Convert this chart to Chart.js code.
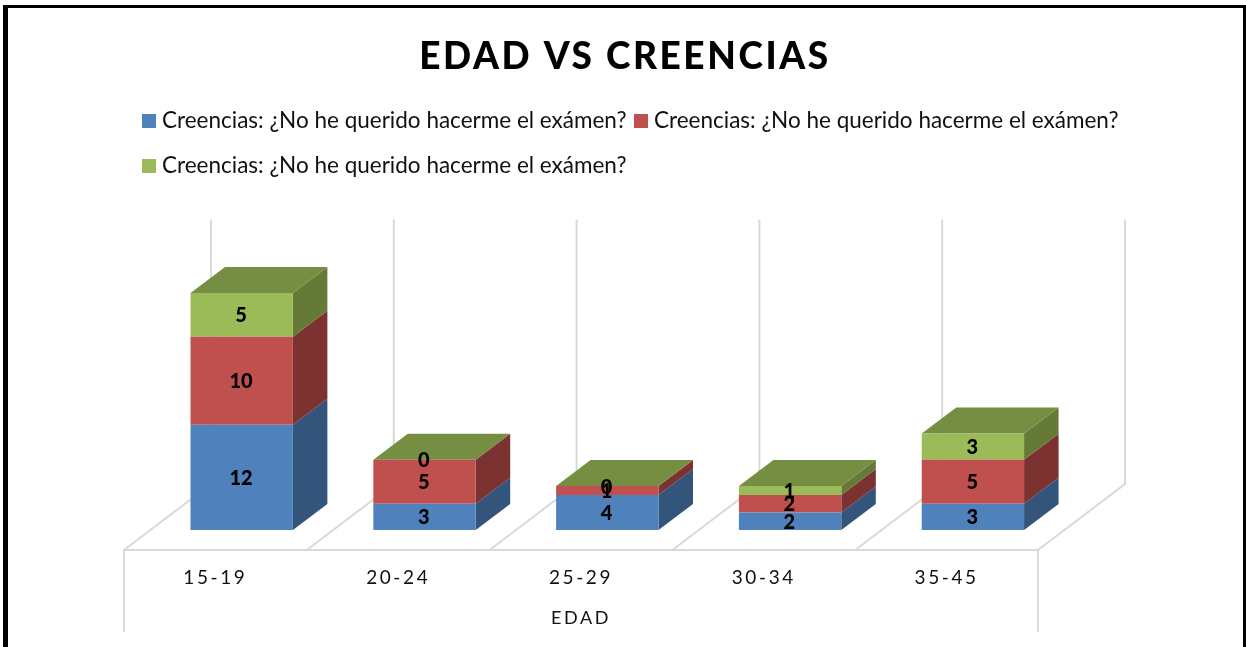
<!DOCTYPE html>
<html lang="es">
<head>
<meta charset="utf-8">
<title>EDAD VS CREENCIAS</title>
<script src="https://cdn.jsdelivr.net/npm/chart.js@4"></script>
<style>html,body{margin:0;padding:0;background:#fff}canvas{display:block}</style>
</head>
<body>
<canvas id="c" width="1246" height="647"></canvas>
<script>
const categories = ['15-19', '20-24', '25-29', '30-34', '35-45'];
const seriesLabel = 'Creencias: ¿No he querido hacerme el exámen?';
const blueValues = [12, 3, 4, 2, 3];
const redValues = [10, 5, 1, 2, 5];
const greenValues = [5, 0, 0, 1, 3];
const frontColors = ['#4F81BD', '#C0504D', '#9BBB59'];
const sideColors = ['#33547B', '#7B3231', '#667A37'];
const topColor = '#768E42';
const gridColor = '#D9D9D9';
const textFont = 'Lato';

const plot3d = {
  id: 'plot3d',
  beforeDraw(chart) {
    const c = chart.ctx;
    c.fillStyle = '#fff'; c.fillRect(0, 0, 1246, 647);
    c.fillStyle = '#000';
    c.fillRect(3, 5, 1243, 3); c.fillRect(3, 5, 5, 642); c.fillRect(1243, 5, 3, 642);
    c.letterSpacing = '2.6px';
  },
  afterLayout(chart) {
    chart.titleBlock.left += 44; chart.titleBlock.right += 44;
  },
  beforeDatasetsDraw(chart) {
    const c = chart.ctx, x = chart.scales.x, y = chart.scales.y;
    c.letterSpacing = '0px';
    const n = categories.length, step = x.width / n, floor = y.getPixelForValue(0);
    c.save();
    c.strokeStyle = gridColor; c.lineWidth = 2;
    c.beginPath();
    for (let i = 0; i <= n; i++) {
      const px = x.left + i * step;
      c.moveTo(px, floor); c.lineTo(px + 87, floor - 66); c.lineTo(px + 87, y.top - 67);
    }
    c.moveTo(x.left, floor); c.lineTo(x.left, 632);
    c.moveTo(x.right, floor); c.lineTo(x.right, 632);
    c.stroke();
    c.restore();
    c.save();
    c.translate(26.3, -20);
    const dx = 34.5, dy = 26;
    chart.data.datasets.forEach((ds, di) => {
      chart.getDatasetMeta(di).data.forEach(el => {
        const r = el.x + el.width / 2;
        c.fillStyle = sideColors[di];
        c.beginPath();
        c.moveTo(r, el.base); c.lineTo(r + dx, el.base - dy);
        c.lineTo(r + dx, el.y - dy); c.lineTo(r, el.y); c.closePath(); c.fill();
      });
    });
    chart.getDatasetMeta(chart.data.datasets.length - 1).data.forEach(el => {
      const l = el.x - el.width / 2, r = el.x + el.width / 2;
      c.fillStyle = topColor;
      c.beginPath();
      c.moveTo(l, el.y); c.lineTo(r, el.y); c.lineTo(r + dx, el.y - dy); c.lineTo(l + dx, el.y - dy);
      c.closePath(); c.fill();
    });
  },
  afterDatasetsDraw(chart) {
    const c = chart.ctx;
    c.fillStyle = '#000';
    c.font = '900 20px ' + textFont;
    c.textAlign = 'center'; c.textBaseline = 'middle';
    chart.data.datasets.forEach((ds, di) => {
      chart.getDatasetMeta(di).data.forEach((el, i) => {
        c.fillText(String(ds.data[i]), el.x - 0.7, (el.y + el.base) / 2 + 1);
      });
    });
    c.restore();
    // legend
    c.save();
    const slots = [[142, 121], [634, 121], [142, 166]];
    c.font = '22.5px ' + textFont;
    c.textAlign = 'left'; c.textBaseline = 'middle';
    chart.data.datasets.forEach((ds, di) => {
      const [lx, ly] = slots[di];
      c.fillStyle = ds.backgroundColor;
      c.fillRect(lx, ly - 7, 14, 14);
      c.fillStyle = '#111';
      c.fillText(ds.label, lx + 20, ly);
    });
    c.restore();
  }
};

new Chart(document.getElementById('c'), {
  type: 'bar',
  data: {
    labels: categories,
    datasets: [
      { label: seriesLabel, data: blueValues, backgroundColor: frontColors[0] },
      { label: seriesLabel, data: redValues, backgroundColor: frontColors[1] },
      { label: seriesLabel, data: greenValues, backgroundColor: frontColors[2] }
    ]
  },
  options: {
    responsive: false,
    animation: false,
    devicePixelRatio: 1,
    layout: { padding: { left: 124, right: 208, top: 0, bottom: 0 } },
    categoryPercentage: 1,
    barPercentage: 0.56,
    plugins: {
      legend: { display: false },
      tooltip: { enabled: false },
      title: {
        display: true,
        text: 'EDAD VS CREENCIAS',
        color: '#000',
        font: { family: textFont, size: 37, weight: 900, lineHeight: 1.2 },
        padding: { top: 35, bottom: 207.2 }
      }
    },
    scales: {
      x: {
        stacked: true,
        afterFit(s) { s.height = 97; },
        grid: { display: false },
        border: { display: true, color: gridColor, width: 2 },
        ticks: { color: '#111', padding: 8, maxRotation: 0, font: { family: textFont, size: 19 } },
        title: {
          display: true, text: 'EDAD', color: '#111',
          font: { family: textFont, size: 18 },
          padding: { top: 0, bottom: 18 }
        }
      },
      y: { stacked: true, display: false, min: 0, max: 30 }
    }
  },
  plugins: [plot3d]
});
</script>
</body>
</html>
